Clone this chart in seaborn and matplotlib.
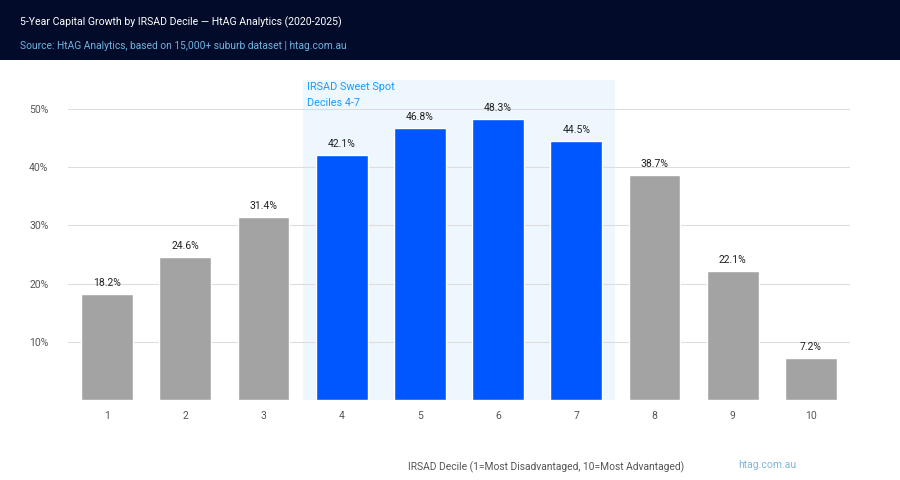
import seaborn as sns
import matplotlib.pyplot as plt
import matplotlib.patches as mpatches
import pandas as pd

# Dados
deciles = ["1", "2", "3", "4", "5", "6", "7", "8", "9", "10"]
growth = [18.2, 24.6, 31.4, 42.1, 46.8, 48.3, 44.5, 38.7, 22.1, 7.2]
sweet_spot = ["4", "5", "6", "7"]
yticks = [10, 20, 30, 40, 50]

df = pd.DataFrame({"decile": deciles, "growth": growth})
df["group"] = ["sweet" if d in sweet_spot else "other" for d in deciles]

sns.set_style("white")
plt.rcParams["font.family"] = ["Roboto", "DejaVu Sans"]

fig = plt.figure(figsize=(9, 4.8), dpi=100)
fig.patch.set_facecolor("white")

# Faixa escura do cabeçalho
fig.add_artist(mpatches.Rectangle((0, 1 - 60 / 480), 1, 60 / 480, transform=fig.transFigure,
                                  facecolor="#020b2a", edgecolor="none", zorder=0))
fig.text(20 / 900, 1 - 22 / 480, "5-Year Capital Growth by IRSAD Decile — HtAG Analytics (2020-2025)",
         color="white", fontsize=7.6, va="center", ha="left")
fig.text(20 / 900, 1 - 46 / 480, "Source: HtAG Analytics, based on 15,000+ suburb dataset | htag.com.au",
         color="#72b4e0", fontsize=7.4, va="center", ha="left")

ax = fig.add_axes([68 / 900, 1 - 400 / 480, 782 / 900, 320 / 480])

# Zona destacada
ax.axvspan(2.5, 6.5, facecolor="#eef6fe", edgecolor="none", zorder=0)
ax.text(2.55, 53.8, "IRSAD Sweet Spot", color="#1a9cff", fontsize=7.8, va="center", ha="left")
ax.text(2.55, 51.0, "Deciles 4-7", color="#1a9cff", fontsize=7.8, va="center", ha="left")

sns.barplot(data=df, x="decile", y="growth", hue="group",
            palette={"sweet": "#0057ff", "other": "#a3a3a3"}, saturation=1,
            order=deciles, width=0.66, dodge=False, legend=False, ax=ax, zorder=2)

for i, v in enumerate(growth):
    ax.text(i, v + 1.9, f"{v}%", ha="center", va="center", fontsize=7.5, color="#222222")

ax.set_xlim(-0.5, 9.5)
ax.set_ylim(0, 55)
ax.set_yticks(yticks)
ax.set_yticklabels([f"{t}%" for t in yticks])
ax.grid(axis="y", color="#dddddd", linewidth=0.8, zorder=1)
ax.set_axisbelow(True)
for s in ax.spines.values():
    s.set_visible(False)
ax.tick_params(axis="both", length=0, labelsize=7.5, labelcolor="#555555")
ax.tick_params(axis="y", pad=14)
ax.tick_params(axis="x", pad=8)
ax.set_xlabel("")
ax.set_ylabel("")
ax.set_facecolor("none")

fig.text(546 / 900, 1 - 467 / 480, "IRSAD Decile (1=Most Disadvantaged, 10=Most Advantaged)",
         color="#555555", fontsize=7.4, ha="center", va="center")
fig.text(767 / 900, 1 - 465 / 480, "htag.com.au", color="#7fb7dc", fontsize=7.5,
         ha="center", va="center")

plt.savefig("out.png", dpi=100)
